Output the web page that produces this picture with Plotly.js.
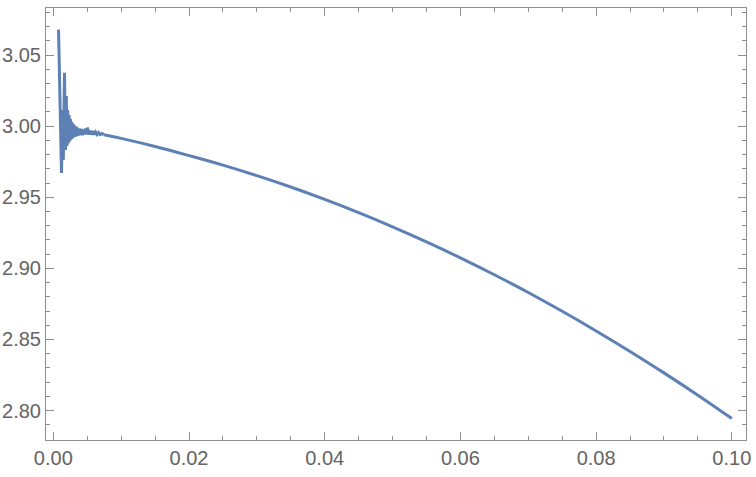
<!DOCTYPE html>
<html>
<head>
<meta charset="utf-8">
<script src="https://cdn.plot.ly/plotly-3.0.1.min.js"></script>
<style>
  html, body { margin: 0; padding: 0; background: #fff; }
  #plot { width: 756px; height: 477px; }
</style>
</head>
<body>
<div id="plot"></div>
<script>
// values
// ringing near zero
var ringX = [
  0.00077, 0.00121, 0.00136, 0.00147, 0.00165, 0.00180, 0.00192, 0.00202,
  0.00212, 0.00223, 0.00233, 0.00243, 0.00254, 0.00264, 0.00274, 0.00285,
  0.00295, 0.00305, 0.00316, 0.00326, 0.00336, 0.00347, 0.00357, 0.00372,
  0.00386, 0.00401, 0.00416, 0.00431, 0.00445, 0.00460, 0.00475, 0.00490,
  0.00504, 0.00519, 0.00534, 0.00556, 0.00578, 0.00600, 0.00622, 0.00644,
  0.00666, 0.00689, 0.00718, 0.00747
];
var ringY = [
  3.0679, 2.9670, 3.0113, 2.9762, 3.0375, 2.9832, 3.0212, 2.9860,
  3.0113, 2.9881, 3.0078, 2.9895, 3.0050, 2.9906, 3.0029, 2.9916,
  3.0015, 2.9923, 3.0004, 2.9927, 2.9997, 2.9930, 2.9990, 2.9934,
  2.9983, 2.9937, 2.9980, 2.9937, 2.9976, 2.9941, 2.9983, 2.9941,
  2.9990, 2.9941, 2.9969, 2.9941, 2.9966, 2.9941, 2.9959, 2.9941,
  2.9955, 2.9941, 2.9948, 2.9939
];
// smooth decline after the ringing
var smoothX = [
  0.00747, 0.010, 0.015, 0.020, 0.025, 0.030, 0.035, 0.040, 0.045, 0.050,
  0.055, 0.060, 0.065, 0.070, 0.075, 0.080, 0.085, 0.090, 0.095, 0.100
];
var smoothY = [
  2.9939, 2.9914, 2.9857, 2.9793, 2.9726, 2.9652, 2.9572, 2.9485, 2.9392, 2.9292,
  2.9186, 2.9074, 2.8955, 2.8830, 2.8698, 2.8560, 2.8416, 2.8265, 2.8108, 2.7944
];

var frameColor = "#8f8f8f";
var lineColor = "rgb(94,129,181)";
var labelFont = {family: "Liberation Sans, Arial, sans-serif", size: 20, color: "#646464"};

var ring = {
  x: ringX,
  y: ringY,
  type: "scatter",
  mode: "lines",
  line: {color: lineColor, width: 3},
  hoverinfo: "skip"
};
var smooth = {
  x: smoothX,
  y: smoothY,
  type: "scatter",
  mode: "lines",
  line: {color: lineColor, width: 3, shape: "spline", smoothing: 1},
  hoverinfo: "skip"
};

var layout = {
  width: 756,
  height: 477,
  margin: {l: 46, r: 10, t: 8, b: 37},
  paper_bgcolor: "#fff",
  plot_bgcolor: "#fff",
  showlegend: false,
  xaxis: {
    range: [-0.001076, 0.10209],
    tick0: 0, dtick: 0.02, tickformat: ".2f",
    ticks: "inside", ticklen: 8, tickwidth: 1, tickcolor: frameColor,
    minor: {dtick: 0.005, ticks: "inside", ticklen: 4, tickcolor: frameColor, showgrid: false},
    showline: true, linecolor: frameColor, linewidth: 1, mirror: "ticks",
    showgrid: false, zeroline: false,
    tickfont: labelFont
  },
  yaxis: {
    range: [2.7793, 3.0831],
    tick0: 0, dtick: 0.05, tickformat: ".2f",
    ticks: "inside", ticklen: 8, tickwidth: 1, tickcolor: frameColor,
    minor: {dtick: 0.01, ticks: "inside", ticklen: 4, tickcolor: frameColor, showgrid: false},
    showline: true, linecolor: frameColor, linewidth: 1, mirror: "ticks",
    showgrid: false, zeroline: false,
    tickfont: labelFont
  }
};

Plotly.newPlot("plot", [ring, smooth], layout, {staticPlot: true, displayModeBar: false});
</script>
</body>
</html>
